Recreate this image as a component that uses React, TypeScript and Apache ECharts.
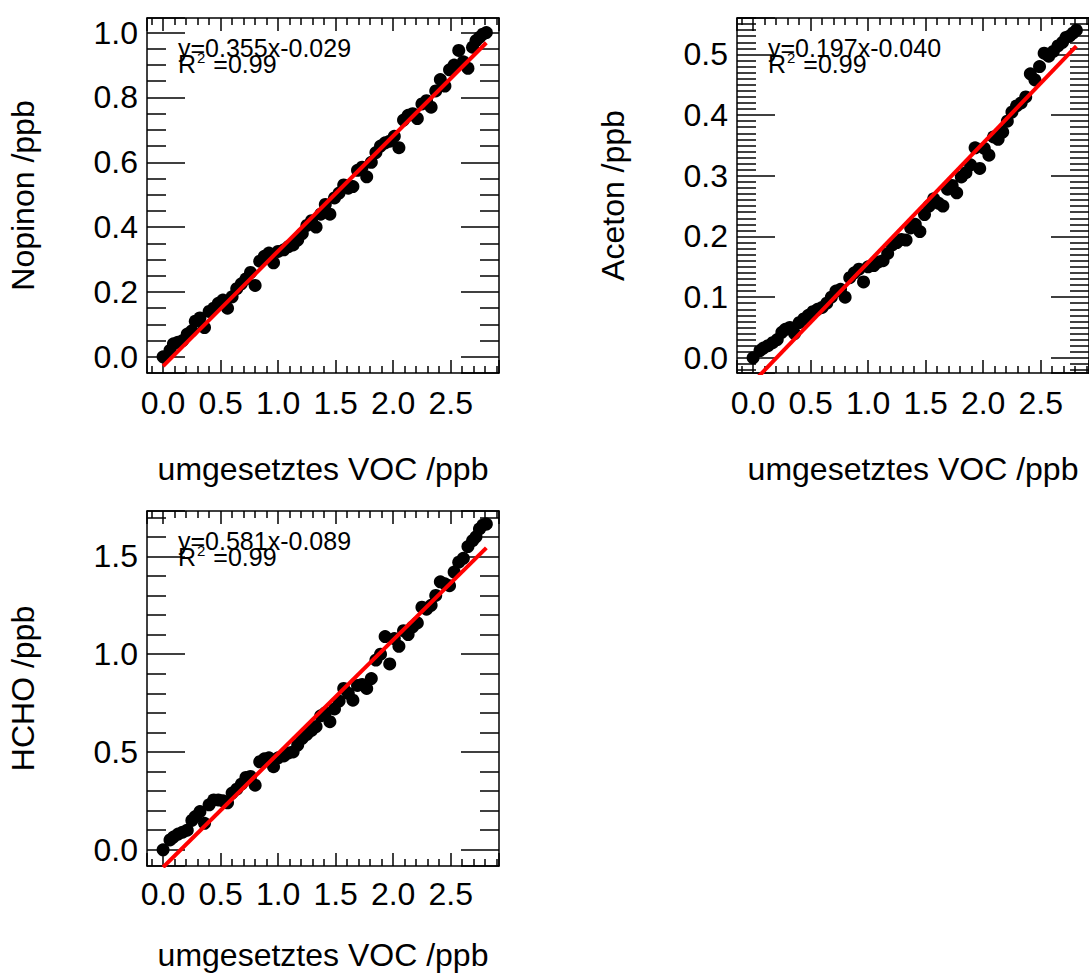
import React, { useEffect, useRef } from "react";
import * as echarts from "echarts";

// umgesetztes VOC (shared x values, ppb)
const voc = [
  0.0, 0.06, 0.09, 0.13, 0.17, 0.21, 0.25, 0.28, 0.32, 0.36, 0.4, 0.44, 0.48, 0.52, 0.56, 0.6,
  0.64, 0.68, 0.72, 0.76, 0.8, 0.84, 0.88, 0.92, 0.96, 1.0, 1.05, 1.09, 1.13, 1.17, 1.21, 1.25,
  1.29, 1.33, 1.37, 1.41, 1.45, 1.49, 1.53, 1.57, 1.61, 1.65, 1.69, 1.73, 1.77, 1.81, 1.85, 1.89,
  1.93, 1.97, 2.01, 2.05, 2.09, 2.13, 2.17, 2.21, 2.25, 2.29, 2.33, 2.37, 2.41, 2.45, 2.49, 2.53,
  2.57, 2.61, 2.65, 2.69, 2.72, 2.75, 2.78, 2.81,
];

const nopinon = [
  0.0, 0.02, 0.04, 0.045, 0.05, 0.07, 0.08, 0.11, 0.12, 0.09, 0.14, 0.15, 0.165, 0.175, 0.15, 0.185,
  0.21, 0.225, 0.24, 0.26, 0.22, 0.295, 0.31, 0.32, 0.29, 0.325, 0.33, 0.34, 0.345, 0.36, 0.38, 0.405,
  0.42, 0.4, 0.44, 0.47, 0.44, 0.49, 0.505, 0.53, 0.52, 0.525, 0.575, 0.585, 0.555, 0.6, 0.63, 0.65,
  0.66, 0.665, 0.68, 0.645, 0.73, 0.745, 0.75, 0.735, 0.78, 0.79, 0.77, 0.82, 0.855, 0.835, 0.885, 0.9,
  0.945, 0.91, 0.89, 0.955, 0.975, 0.985, 0.995, 1.0,
];

const aceton = [
  0.0, 0.012, 0.016, 0.02, 0.025, 0.03, 0.042, 0.047, 0.05, 0.04, 0.058, 0.064, 0.07, 0.076, 0.08, 0.083,
  0.09, 0.1, 0.11, 0.113, 0.1, 0.132, 0.14, 0.146, 0.125, 0.15, 0.152, 0.158, 0.16, 0.172, 0.186, 0.19,
  0.195, 0.194, 0.214, 0.22, 0.208, 0.236, 0.25, 0.262, 0.255, 0.25, 0.278, 0.284, 0.272, 0.298, 0.305, 0.318,
  0.346, 0.312, 0.345, 0.334, 0.364, 0.36, 0.372, 0.39, 0.405, 0.415, 0.42, 0.43, 0.468, 0.458, 0.48, 0.502,
  0.497, 0.505, 0.514, 0.52, 0.528, 0.53, 0.535, 0.54,
];

const hcho = [
  0.0, 0.05, 0.065, 0.08, 0.09, 0.1, 0.15, 0.17, 0.195, 0.135, 0.23, 0.255, 0.255, 0.25, 0.24, 0.29,
  0.31, 0.335, 0.37, 0.375, 0.33, 0.45, 0.465, 0.47, 0.425, 0.47, 0.48, 0.495, 0.5, 0.535, 0.57, 0.59,
  0.61, 0.63, 0.685, 0.7, 0.655, 0.72, 0.76, 0.825, 0.8, 0.765, 0.84, 0.845, 0.825, 0.875, 0.97, 1.0,
  1.09, 0.95, 1.08, 1.04, 1.12, 1.1, 1.14, 1.16, 1.24, 1.23, 1.25, 1.3, 1.37, 1.36, 1.35, 1.42,
  1.47, 1.49, 1.55, 1.58, 1.6, 1.64, 1.66, 1.665,
];

const yTitles = ["Nopinon /ppb", "Aceton /ppb", "HCHO /ppb"];
const xTitle = "umgesetztes VOC /ppb";
const fitSlopes = [0.355, 0.197, 0.581];
const fitIntercepts = [-0.029, -0.04, -0.089];
const fitLabels = ["y=0.355x-0.029", "y=0.197x-0.040", "y=0.581x-0.089"];
const r2Values = ["0.99", "0.99", "0.99"];
const yMins = [-0.05, -0.025, -0.083];
const yMaxs = [1.045, 0.56, 1.732];
const yMajor = [0.2, 0.1, 0.5];
const yMinorSplit = [4, 10, 5];
const xMin = -0.14;
const xMax = 2.92;
const xMajor = 0.5;
const xMinorSplit = 5;

const FONT = "'Liberation Sans', Arial, Helvetica, sans-serif";
const INK = "#000";
const BIG = 32;

export default function App() {
  const ref = useRef<HTMLDivElement>(null);

  useEffect(() => {
    if (!ref.current) return;
    const chart = echarts.init(ref.current, undefined, { renderer: "svg" });

    const grids = [
      { left: 147, top: 18, width: 352, height: 355 },
      { left: 737, top: 18, width: 355, height: 355 },
      { left: 147, top: 511, width: 352, height: 355 },
    ];
    const xNameGaps = [80, 80, 73];
    const xLabelMargins = [14, 14, 12];
    const ySeries = [nopinon, aceton, hcho];

    const xAxes: any[] = [];
    const yAxes: any[] = [];
    const series: any[] = [];
    const graphics: any[] = [];

    const lineStyle = { color: INK, width: 1.5 };

    grids.forEach((g, i) => {
      // bottom x axis (labelled)
      xAxes.push({
        type: "value",
        gridIndex: i,
        position: "bottom",
        min: xMin,
        max: xMax,
        splitNumber: 6,
        minInterval: xMajor,
        maxInterval: xMajor,
        axisLine: { show: true, onZero: false, lineStyle },
        axisTick: { show: true, inside: true, length: 13, lineStyle },
        minorTick: { show: true, splitNumber: xMinorSplit, length: 7, lineStyle },
        splitLine: { show: false },
        axisLabel: {
          show: true,
          margin: xLabelMargins[i],
          color: INK,
          fontSize: BIG,
          fontFamily: FONT,
          showMinLabel: false,
          showMaxLabel: false,
          formatter: (v: number) => v.toFixed(1),
        },
        name: xTitle,
        nameLocation: "middle",
        nameGap: xNameGaps[i],
        nameTextStyle: { color: INK, fontSize: BIG, fontFamily: FONT },
      });
      // top x axis (ticks only)
      xAxes.push({
        type: "value",
        gridIndex: i,
        position: "top",
        min: xMin,
        max: xMax,
        splitNumber: 6,
        minInterval: xMajor,
        maxInterval: xMajor,
        axisLine: { show: true, onZero: false, lineStyle },
        axisTick: { show: true, inside: true, length: 13, lineStyle },
        minorTick: { show: true, splitNumber: xMinorSplit, length: 7, lineStyle },
        splitLine: { show: false },
        axisLabel: { show: false },
      });
      // left y axis (labelled)
      yAxes.push({
        type: "value",
        gridIndex: i,
        position: "left",
        min: yMins[i],
        max: yMaxs[i],
        splitNumber: 6,
        minInterval: yMajor[i],
        maxInterval: yMajor[i],
        axisLine: { show: true, onZero: false, lineStyle },
        axisTick: { show: true, inside: true, length: 38, lineStyle },
        minorTick: { show: true, splitNumber: yMinorSplit[i], length: 19, lineStyle },
        splitLine: { show: false },
        axisLabel: {
          show: true,
          margin: 9,
          color: INK,
          fontSize: BIG,
          fontFamily: FONT,
          showMinLabel: false,
          showMaxLabel: false,
          formatter: (v: number) => v.toFixed(1),
        },
        name: yTitles[i],
        nameLocation: "middle",
        nameGap: 108,
        nameTextStyle: { color: INK, fontSize: BIG, fontFamily: FONT },
      });
      // right y axis (ticks only)
      yAxes.push({
        type: "value",
        gridIndex: i,
        position: "right",
        min: yMins[i],
        max: yMaxs[i],
        splitNumber: 6,
        minInterval: yMajor[i],
        maxInterval: yMajor[i],
        axisLine: { show: true, onZero: false, lineStyle },
        axisTick: { show: true, inside: true, length: 38, lineStyle },
        minorTick: { show: true, splitNumber: yMinorSplit[i], length: 19, lineStyle },
        splitLine: { show: false },
        axisLabel: { show: false },
      });

      const ys = ySeries[i];
      series.push({
        type: "scatter",
        xAxisIndex: i * 2,
        yAxisIndex: i * 2,
        symbol: "circle",
        symbolSize: 13,
        itemStyle: { color: INK, opacity: 1 },
        data: voc.map((x, k) => [x, ys[k]]),
        z: 2,
      });
      const x0 = voc[0];
      const x1 = voc[voc.length - 1];
      series.push({
        type: "line",
        xAxisIndex: i * 2,
        yAxisIndex: i * 2,
        showSymbol: false,
        symbol: "none",
        clip: true,
        lineStyle: { color: "#ff0000", width: 4 },
        data: [
          [x0, fitSlopes[i] * x0 + fitIntercepts[i]],
          [x1, fitSlopes[i] * x1 + fitIntercepts[i]],
        ],
        z: 3,
      });

      const tx = g.left + 31;
      graphics.push({
        type: "text",
        left: tx,
        top: g.top + 17,
        style: {
          text: fitLabels[i],
          fontSize: 25,
          lineHeight: 18,
          fontFamily: FONT,
          fill: INK,
        },
        z: 10,
      });
      graphics.push({
        type: "text",
        left: tx,
        top: g.top + 32,
        style: {
          text: "R{s|2} =" + r2Values[i],
          fontSize: 25,
          lineHeight: 28,
          fontFamily: FONT,
          fill: INK,
          rich: {
            s: {
              fontSize: 15,
              lineHeight: 12,
              verticalAlign: "top",
              fontFamily: FONT,
              fill: INK,
              padding: [0, 1, 0, 1],
            },
          },
        },
        z: 10,
      });
    });

    chart.setOption({
      animation: false,
      backgroundColor: "#fff",
      grid: grids,
      xAxis: xAxes,
      yAxis: yAxes,
      series,
      graphic: graphics,
    });

    return () => chart.dispose();
  }, []);

  return (
    <div
      ref={ref}
      style={{ position: "absolute", left: 0, top: 0, width: 1089, height: 975, background: "#fff" }}
    />
  );
}
